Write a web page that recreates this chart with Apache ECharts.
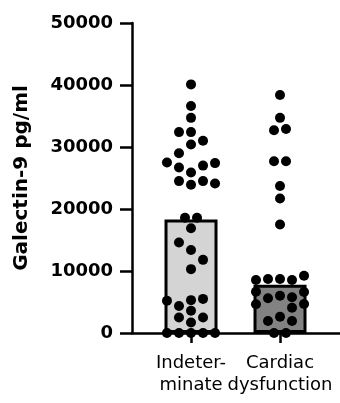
<!DOCTYPE html>
<html><head><meta charset="utf-8">
<script src="https://cdn.jsdelivr.net/npm/echarts@6/dist/echarts.min.js"></script>
<style>html,body{margin:0;padding:0;background:#fff}#c{width:340px;height:403px}</style>
</head><body><div id="c"></div>
<script>
// ---- data ----
const categories = ['Indeter-\nminate', 'Cardiac\ndysfunction'];
const barValues = [18300, 7800];
const barColors = ['#d4d4d4', '#828282'];
const yTicks = [0, 10000, 20000, 30000, 40000, 50000];
const yAxisTitle = 'Galectin-9 pg/ml';

// individual points (Galectin-9 pg/ml) and the swarm column each one sits in
const indeterminateValues = [40100, 36600, 34700, 32400, 32400, 31000, 30400, 29000, 27500, 27400, 27000, 26700, 25900, 24500, 24500, 24100, 23900,
  18600, 18600, 16900, 14600, 13400, 11800, 10300,
  5500, 5300, 5200, 4350, 3600, 2500, 2500, 1700, 0, 0, 0, 0, 0];
const indeterminateColumns = [0, 0, 0, -1, 0, 1, 0, -1, -2, 2, 1, -1, 0, -1, 1, 2, 0,
  -0.5, 0.5, 0, -1, 0, 1, 0,
  1, 0, -2, -1, 0, -1, 1, 0, -2, -1, 0, 1, 2];
const cardiacValues = [38400, 34700, 32900, 32700, 27700, 27700, 23700, 21700, 17500,
  9240, 8700, 8700, 8550, 8550, 6660, 6600, 6020, 5760, 5600, 4680, 4630, 4080,
  2630, 1940, 1940, 0, 0];
const cardiacColumns = [0, 0, 0.5, -0.5, -0.5, 0.5, 0, 0, 0,
  2, -1, 0, -2, 1, -2, 2, 0, 1, -1, 2, -2, 1,
  0, -1, 1, -0.5, 0.5];

// ---- layout constants ----
const columnStep = 0.135; // swarm column spacing in category units
const FONT = 'DejaVu Sans';

function points(catIndex, values, cols) {
  return values.map((v, i) => [catIndex + cols[i] * columnStep, v]);
}

const chart = echarts.init(document.getElementById('c'), null, {renderer: 'canvas'});
chart.setOption({
  animation: false,
  backgroundColor: '#fff',
  grid: {left: 132, right: 0, top: 23, bottom: 70, containLabel: false, outerBoundsMode: 'none'},
  xAxis: {
    type: 'value',
    min: -0.663, max: 1.674,
    splitLine: {show: false},
    axisLine: {show: true, onZero: false, lineStyle: {color: '#000', width: 2.5}},
    axisTick: {show: true, customValues: [0, 1], length: 10, inside: false, lineStyle: {color: '#000', width: 2.5}},
    axisLabel: {
      customValues: [0, 1],
      formatter: v => categories[Math.round(v)],
      color: '#000', fontFamily: FONT, fontSize: 18, lineHeight: 22, margin: 19
    }
  },
  yAxis: {
    type: 'value',
    min: yTicks[0], max: yTicks[yTicks.length - 1], interval: yTicks[1] - yTicks[0],
    name: yAxisTitle,
    nameLocation: 'middle',
    nameRotate: 90,
    nameGap: 100,
    nameTextStyle: {color: '#000', fontFamily: FONT, fontWeight: 'bold', fontSize: 20},
    splitLine: {show: false},
    axisLine: {show: true, onZero: false, lineStyle: {color: '#000', width: 2.5}},
    axisTick: {show: true, length: 12, inside: false, lineStyle: {color: '#000', width: 2.5}},
    axisLabel: {color: '#000', fontFamily: FONT, fontWeight: 'bold', fontSize: 18, margin: 19,
      formatter: v => String(v)}
  },
  series: [
    {
      type: 'bar',
      barWidth: 53,
      z: 2,
      data: barValues.map((v, i) => ({value: [i, v], itemStyle: {color: barColors[i]}})),
      itemStyle: {borderColor: '#000', borderWidth: 3}
    },
    {
      type: 'scatter', symbol: 'circle', symbolSize: 10, z: 5,
      itemStyle: {color: '#000', opacity: 1},
      data: points(0, indeterminateValues, indeterminateColumns)
    },
    {
      type: 'scatter', symbol: 'circle', symbolSize: 10, z: 5,
      itemStyle: {color: '#000', opacity: 1},
      data: points(1, cardiacValues, cardiacColumns)
    }
  ]
});
</script></body></html>
